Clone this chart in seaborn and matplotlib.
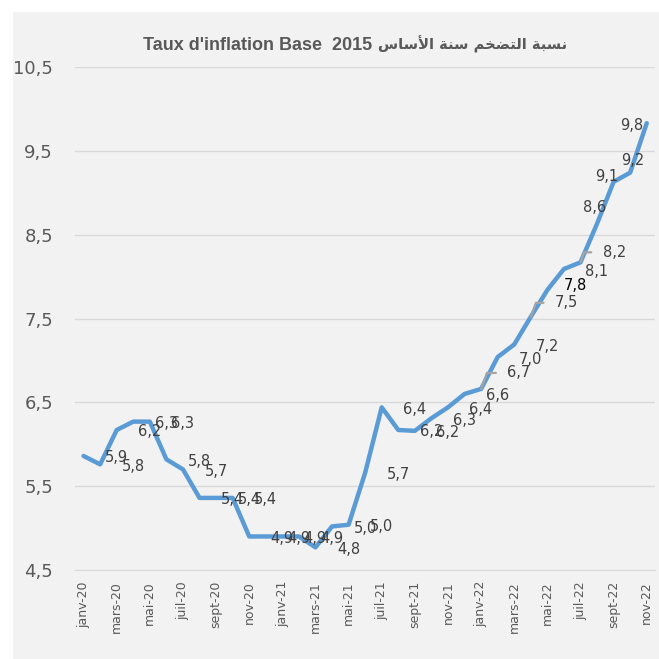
import matplotlib
matplotlib.use("Agg")
import matplotlib.pyplot as plt
from matplotlib.patches import Rectangle
import numpy as np
import pandas as pd
import seaborn as sns

# monthly inflation, base 2015 (janv-20 .. nov-22)
months = ["janv", "févr", "mars", "avr", "mai", "juin",
          "juil", "août", "sept", "oct", "nov", "déc"]
years = ["20", "21", "22"]
inflation = [5.86, 5.76, 6.17, 6.27, 6.27, 5.82, 5.70, 5.36, 5.36, 5.36, 4.90, 4.90,
             4.90, 4.90, 4.77, 5.02, 5.04, 5.66, 6.44, 6.17, 6.16, 6.31, 6.44, 6.60,
             6.66, 7.04, 7.19, 7.52, 7.84, 8.09, 8.17, 8.63, 9.13, 9.24, 9.83]
month_labels = [f"{m}-{y}" for y in years for m in months][:len(inflation)]

title_fr = "Taux d'inflation Base  2015"
title_ar = "نسبة التضخم سنة الأساس"

# arabic presentation forms: isolated, final, initial, medial
FORMS = {
    "ا": ("\ufe8d", "\ufe8e", None, None),
    "أ": ("\ufe83", "\ufe84", None, None),
    "ب": ("\ufe8f", "\ufe90", "\ufe91", "\ufe92"),
    "ت": ("\ufe95", "\ufe96", "\ufe97", "\ufe98"),
    "ة": ("\ufe93", "\ufe94", None, None),
    "خ": ("\ufea5", "\ufea6", "\ufea7", "\ufea8"),
    "س": ("\ufeb1", "\ufeb2", "\ufeb3", "\ufeb4"),
    "ض": ("\ufebd", "\ufebe", "\ufebf", "\ufec0"),
    "ل": ("\ufedd", "\ufede", "\ufedf", "\ufee0"),
    "م": ("\ufee1", "\ufee2", "\ufee3", "\ufee4"),
    "ن": ("\ufee5", "\ufee6", "\ufee7", "\ufee8"),
    "\ufef7": ("\ufef7", "\ufef8", None, None),  # lam-alef hamza
}


def shape_arabic(text):
    """join letters and put them in visual (left to right) order"""
    words = []
    for word in text.split(" "):
        word = word.replace("لأ", "\ufef7")
        out = []
        for k, ch in enumerate(word):
            iso, fin, ini, med = FORMS[ch]
            prev_joins = k > 0 and FORMS[word[k - 1]][2] is not None
            next_joins = k < len(word) - 1 and ini is not None
            if prev_joins and next_joins:
                out.append(med)
            elif prev_joins:
                out.append(fin)
            elif next_joins:
                out.append(ini)
            else:
                out.append(iso)
        words.append("".join(reversed(out)))
    return " ".join(reversed(words))


df = pd.DataFrame({"idx": np.arange(len(inflation)), "inflation": inflation})

sns.set_style("white")
plt.rcParams["font.family"] = ["DejaVu Sans"]

W = 659
fig = plt.figure(figsize=(6.59, 6.59), dpi=100, facecolor="white")
fig.patches.append(Rectangle((13 / W, 0), 646 / W, 647 / W,
                             transform=fig.transFigure, facecolor="#f2f2f2",
                             edgecolor="none", zorder=-5))
ax = fig.add_axes([75.3 / W, 89 / W, 579.7 / W, 503 / W])
ax.set_facecolor("#f2f2f2")

sns.lineplot(data=df, x="idx", y="inflation", color="#5b9bd5", linewidth=3.2,
             solid_joinstyle="round", solid_capstyle="round", ax=ax)

ax.set_xlim(-0.5, len(inflation) - 0.5)
ax.set_ylim(4.5, 10.5)
yt = np.arange(4.5, 10.6, 1.0)
ax.set_yticks(yt)
ax.set_yticklabels([f"{v:.1f}".replace(".", ",") for v in yt])
ax.set_xticks(df["idx"][::2])
ax.set_xticklabels(month_labels[::2], rotation=90)
ax.set_xticks(np.arange(-0.5, len(inflation) - 1, 2), minor=True)
ax.tick_params(axis="x", which="major", length=0, pad=8, labelsize=9,
               labelcolor="#595959")
ax.tick_params(axis="x", which="minor", length=4, width=1, color="#d9d9d9")
ax.tick_params(axis="y", length=0, pad=16, labelsize=13, labelcolor="#595959")
ax.set_xlabel("")
ax.set_ylabel("")

ax.yaxis.grid(True, color="#d9d9d9", linewidth=1)
ax.xaxis.grid(False)
for side in ["top", "right", "left"]:
    ax.spines[side].set_visible(False)
ax.spines["bottom"].set_color("#d9d9d9")
ax.set_axisbelow(True)

# data labels, most sit to the right of the point
label_offsets = {24: (38, 16), 27: (36, 14), 28: (28, 4), 30: (34, 10),
                 31: (-2, 16), 32: (-7, 5), 33: (3, 12), 34: (-15, -2)}
leaders = [24, 27, 30]
for i, v in enumerate(inflation):
    dx, dy = label_offsets.get(i, (33, -2))
    kw = {}
    if i in leaders:
        kw["arrowprops"] = dict(arrowstyle="-", color="#a5a5a5", lw=1.6,
                                shrinkA=6, shrinkB=0, relpos=(0, 0.5),
                                connectionstyle="angle,angleA=0,angleB=70,rad=0")
    ax.annotate(f"{v:.1f}".replace(".", ","), xy=(i, v), xytext=(dx, dy),
                textcoords="offset pixels", ha="center", va="center",
                fontsize=10.5, color="black" if i == 28 else "#404040",
                zorder=4, **kw)

# title: french part then arabic part
fig.text(372 / W, 1 - 45 / W, title_fr, ha="right", va="center",
         fontsize=13, fontweight="bold", color="#595959",
         family=["Liberation Sans", "DejaVu Sans"])
fig.text(378 / W, 1 - 44 / W, shape_arabic(title_ar), ha="left", va="center",
         fontsize=10.5, fontweight="bold", color="#595959",
         family=["DejaVu Sans"])

fig.savefig("out.png", dpi=100)
